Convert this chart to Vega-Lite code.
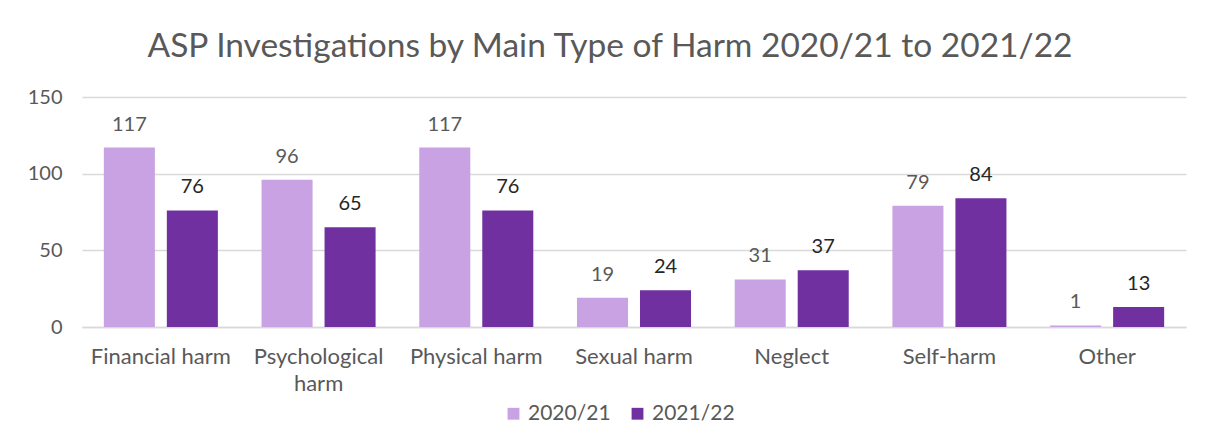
{
  "$schema": "https://vega.github.io/schema/vega-lite/v6.json",
  "autosize": "none",
  "width": 1104,
  "height": 230,
  "padding": {"left": 82, "top": 97, "right": 20, "bottom": 114},
  "background": "white",
  "config": {
    "font": "Lato",
    "view": {"stroke": null},
    "axis": {"labelFont": "Lato", "labelColor": "#595959", "labelFontSize": 20}
  },
  "title": {
    "text": "ASP Investigations by Main Type of Harm 2020/21 to 2021/22",
    "font": "Lato",
    "fontSize": 33.5,
    "fontWeight": "normal",
    "color": "#595959",
    "anchor": "middle",
    "dx": -24,
    "offset": 23
  },
  "data": {
    "values": [
      {"type": "Financial harm", "year": "2020/21", "value": 117},
      {"type": "Financial harm", "year": "2021/22", "value": 76},
      {"type": "Psychological harm", "year": "2020/21", "value": 96},
      {"type": "Psychological harm", "year": "2021/22", "value": 65},
      {"type": "Physical harm", "year": "2020/21", "value": 117},
      {"type": "Physical harm", "year": "2021/22", "value": 76},
      {"type": "Sexual harm", "year": "2020/21", "value": 19},
      {"type": "Sexual harm", "year": "2021/22", "value": 24},
      {"type": "Neglect", "year": "2020/21", "value": 31},
      {"type": "Neglect", "year": "2021/22", "value": 37},
      {"type": "Self-harm", "year": "2020/21", "value": 79},
      {"type": "Self-harm", "year": "2021/22", "value": 84},
      {"type": "Other", "year": "2020/21", "value": 1},
      {"type": "Other", "year": "2021/22", "value": 13}
    ]
  },
  "encoding": {
    "x": {
      "field": "type",
      "type": "nominal",
      "sort": null,
      "scale": {"paddingInner": 0.277, "paddingOuter": 0.1385},
      "axis": {
        "title": null,
        "labelAngle": 0,
        "ticks": false,
        "domain": true,
        "domainColor": "#d9d9d9",
        "domainWidth": 1.5,
        "labelFontSize": 22,
        "labelPadding": 19,
        "labelLineHeight": 27,
        "labelExpr": "datum.value == 'Psychological harm' ? ['Psychological', 'harm'] : datum.value"
      }
    },
    "xOffset": {"field": "year", "type": "nominal", "scale": {"paddingInner": 0.19, "paddingOuter": 0}},
    "y": {
      "field": "value",
      "type": "quantitative",
      "scale": {"domain": [0, 150]},
      "axis": {
        "title": null,
        "values": [0, 50, 100, 150],
        "ticks": false,
        "domain": false,
        "gridColor": "#d9d9d9",
        "gridWidth": 1.5,
        "labelPadding": 20
      }
    }
  },
  "layer": [
    {
      "mark": {"type": "bar"},
      "encoding": {
        "color": {
          "field": "year",
          "type": "nominal",
          "scale": {"domain": ["2020/21", "2021/22"], "range": ["#c8a2e2", "#7030a0"]},
          "legend": {
            "title": null,
            "orient": "none",
            "direction": "horizontal",
            "legendX": 421,
            "legendY": 306,
            "symbolType": "square",
            "symbolSize": 140,
            "symbolStrokeWidth": 0,
            "labelFont": "Lato",
            "labelFontSize": 21,
            "labelColor": "#595959",
            "labelOffset": 4,
            "columnPadding": 16
          }
        }
      }
    },
    {
      "mark": {"type": "text", "baseline": "alphabetic", "dy": -17, "fontSize": 20, "font": "Lato"},
      "encoding": {
        "text": {"field": "value", "type": "quantitative"},
        "color": {
          "condition": {"test": "datum.year === '2020/21'", "value": "#595959"},
          "value": "#262626"
        }
      }
    }
  ]
}
